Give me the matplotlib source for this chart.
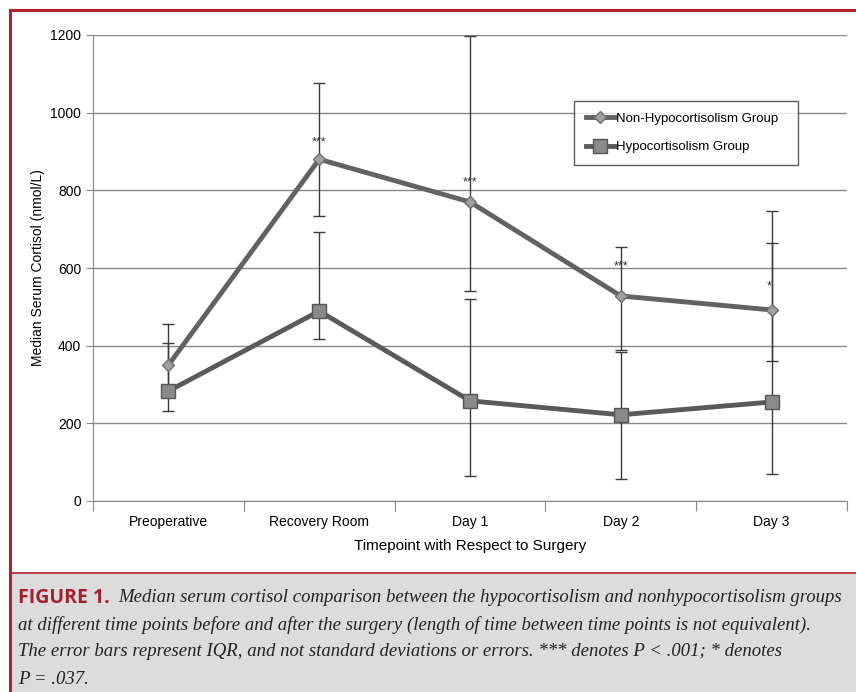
import matplotlib
matplotlib.use("Agg")
import matplotlib.pyplot as plt
from matplotlib.lines import Line2D
from matplotlib.patches import Rectangle
import numpy as np

plt.rcParams['font.family'] = ['Liberation Sans', 'DejaVu Sans']

# data
categories = ["Preoperative", "Recovery Room", "Day 1", "Day 2", "Day 3"]
non_hypo = [350, 880, 770, 528, 492]
non_hypo_lo = [290, 734, 541, 390, 360]
non_hypo_hi = [456, 1077, 1198, 654, 747]
hypo = [283, 489, 258, 222, 255]
hypo_lo = [232, 417, 64, 57, 70]
hypo_hi = [407, 693, 520, 384, 664]
stars = ["", "***", "***", "***", "*"]
star_offsets = [0, 12, 14, 21, 17]  # points above the marker

fig = plt.figure(figsize=(8.56, 6.92), dpi=100)
W, H = 856, 692

# frame and caption panel
fig.patches.append(Rectangle((10 / W, 0), 1, (H - 573) / H, transform=fig.transFigure,
                             facecolor="#dcdcdc", edgecolor="none", zorder=0))
fig.lines.append(Line2D([10 / W, 10 / W], [0, (H - 10) / H], transform=fig.transFigure,
                        color="#b2242b", lw=2.2))
fig.lines.append(Line2D([10 / W, 1], [(H - 10) / H, (H - 10) / H], transform=fig.transFigure,
                        color="#b2242b", lw=2.2))
fig.lines.append(Line2D([10 / W, 1], [(H - 573) / H, (H - 573) / H], transform=fig.transFigure,
                        color="#b2242b", lw=1.2))

ax = fig.add_axes([93 / W, (H - 501) / H, (847 - 93) / W, (501 - 35) / H])
x = np.arange(1, len(categories) + 1)

ax.set_xlim(0.5, len(categories) + 0.5)
ax.set_ylim(0, 1200)
ax.set_yticks(range(0, 1201, 200))
ax.yaxis.grid(True, color="#888888", lw=1)
ax.set_axisbelow(True)
for s in ["top", "right"]:
    ax.spines[s].set_visible(False)
for s in ["left", "bottom"]:
    ax.spines[s].set_color("#888888")
ax.set_xticks(np.arange(0.5, len(categories) + 1, 1))
ax.set_xticklabels([])
ax.set_xticks(x, minor=True)
ax.set_xticklabels(categories, minor=True)
ax.tick_params(axis="x", which="major", length=7, color="#888888", direction="out")
ax.tick_params(axis="x", which="minor", length=0, pad=10, labelsize=10)
ax.tick_params(axis="y", length=5, color="#888888", labelsize=10)
ax.set_xlabel("Timepoint with Respect to Surgery", fontsize=11, labelpad=7)
ax.set_ylabel("Median Serum Cortisol (nmol/L)", fontsize=10, labelpad=4)

ax.errorbar(x, non_hypo,
            yerr=[np.array(non_hypo) - non_hypo_lo, np.array(non_hypo_hi) - non_hypo],
            fmt="none", ecolor="#3a3a3a", elinewidth=1, capsize=4, capthick=1, zorder=2)
ax.errorbar(x, hypo,
            yerr=[np.array(hypo) - hypo_lo, np.array(hypo_hi) - hypo],
            fmt="none", ecolor="#3a3a3a", elinewidth=1, capsize=4, capthick=1, zorder=2)

ax.plot(x, non_hypo, color="#626262", lw=3.5, marker="D", ms=6.5,
        mfc="#a0a0a0", mec="#707070", mew=1, label="Non-Hypocortisolism Group", zorder=3)
ax.plot(x, hypo, color="#5a5a5a", lw=3.5, marker="s", ms=10,
        mfc="#8a8a8a", mec="#555555", mew=1, label="Hypocortisolism Group", zorder=3)

for xi, yi, s, off in zip(x, non_hypo, stars, star_offsets):
    if s:
        ax.annotate(s, (xi, yi), xytext=(-2 if s == "*" else 0, off), textcoords="offset points",
                    ha="center", va="center", fontsize=9, color="#333333")

# legend box spans x 574..798 px, top at 101 px
lx0 = (574 - 93) / (847 - 93)
lw_ = (798 - 574) / (847 - 93)
ltop = (501 - 101) / 466
leg = ax.legend(loc="upper left", bbox_to_anchor=(lx0, ltop - 0.2, lw_, 0.2), mode="expand",
                frameon=True, fancybox=False, edgecolor="#333333", fontsize=9.5,
                handlelength=2.2, handletextpad=0.05, labelspacing=1.2,
                borderpad=0.9, borderaxespad=0)
leg.get_frame().set_linewidth(1)

# caption
cap_font = ['Liberation Serif', 'DejaVu Serif']
fig.text(18 / W, (H - 598) / H, "FIGURE 1.", color="#a3202a", fontsize=14,
         fontweight="bold", va="center", family=['Open Sans', 'DejaVu Sans'])
lines = [
    (118, 598, "Median serum cortisol comparison between the hypocortisolism and nonhypocortisolism groups"),
    (18, 625, "at different time points before and after the surgery (length of time between time points is not equivalent)."),
    (18, 652, "The error bars represent IQR, and not standard deviations or errors. *** denotes P < .001; * denotes"),
    (18, 679, "P = .037."),
]
for lx, ly, t in lines:
    fig.text(lx / W, (H - ly) / H, t, fontsize=13.5, style="italic", va="center",
             family=cap_font, color="#222222")

fig.savefig("out.png", dpi=100)
